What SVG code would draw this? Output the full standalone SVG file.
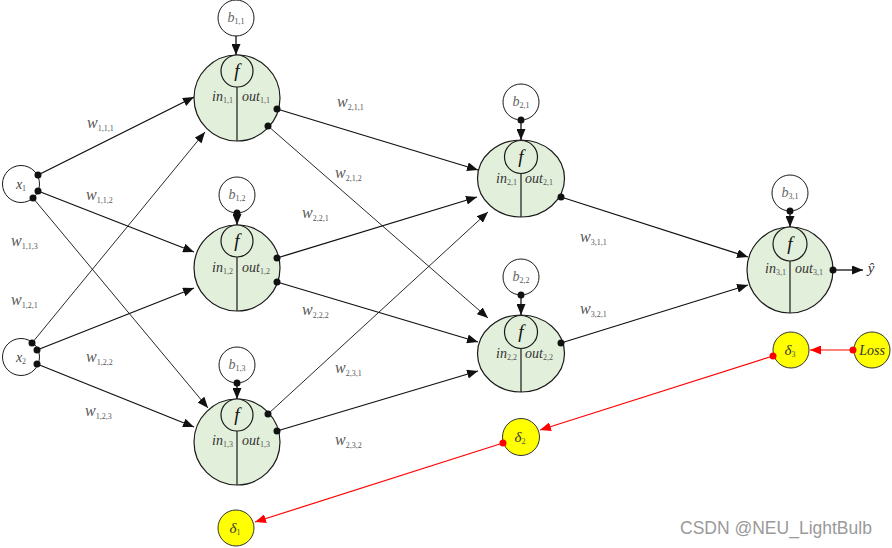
<svg xmlns="http://www.w3.org/2000/svg" width="892" height="548" viewBox="0 0 892 548">
<style>
  text { font-family: "Liberation Serif", "Times New Roman", serif; }
  .node { fill: #e2efda; stroke: #1a1a1a; stroke-width: 1.2; }
  .fc { fill: #e2efda; stroke: #1a1a1a; stroke-width: 1.2; }
  .div { stroke: #1a1a1a; stroke-width: 1.2; }
  .plain { fill: #ffffff; stroke: #1a1a1a; stroke-width: 1; }
  .delta { fill: #ffff00; stroke: #333333; stroke-width: 1; }
  .f { font-style: italic; font-size: 19px; fill: #111; text-anchor: middle; }
  .lab { font-style: italic; font-size: 14px; fill: #333; }
  .sub { font-style: normal; font-size: 8px; fill: #555; }
  .w { font-style: italic; font-size: 16px; fill: #555; }
  .b { font-style: italic; font-size: 14px; fill: #666; text-anchor: middle; }
  .x { font-style: italic; font-size: 14px; fill: #444; text-anchor: middle; }
  .d { font-style: italic; font-size: 15px; fill: #333; text-anchor: middle; }
  .thick { stroke: #111; stroke-width: 1.3; fill: none; marker-end: url(#arr); }
  .thin { stroke: #111; stroke-width: 0.9; fill: none; marker-end: url(#arr); }
  .red { stroke: #ff0000; stroke-width: 1.2; fill: none; marker-end: url(#rarr); }
  .dot { fill: #111; }
  .rdot { fill: #ff0000; }
</style>
<defs>
  <marker id="arr" markerUnits="userSpaceOnUse" markerWidth="11" markerHeight="9" refX="11" refY="4.5" orient="auto">
    <path d="M0,0 L11,4.5 L0,9 z" fill="#111"/>
  </marker>
  <marker id="rarr" markerUnits="userSpaceOnUse" markerWidth="11" markerHeight="9" refX="11" refY="4.5" orient="auto">
    <path d="M0,0 L11,4.5 L0,9 z" fill="#ff0000"/>
  </marker>
</defs>
<rect width="892" height="548" fill="#ffffff"/>

<g id="connectors">
  <line class="thick" x1="38" y1="175" x2="194" y2="97"/>
  <line class="thick" x1="38" y1="191" x2="194" y2="252"/>
  <line class="thin" x1="33" y1="198" x2="208" y2="408"/>
  <line class="thin" x1="32" y1="343" x2="205" y2="132"/>
  <line class="thick" x1="37" y1="350" x2="194" y2="288"/>
  <line class="thick" x1="37" y1="364" x2="194" y2="427"/>
  <line class="thick" x1="277" y1="109" x2="478" y2="170"/>
  <line class="thin" x1="268" y1="126" x2="488" y2="318"/>
  <line class="thick" x1="277" y1="258" x2="477" y2="197"/>
  <line class="thick" x1="277" y1="282" x2="478" y2="342"/>
  <line class="thin" x1="268" y1="414" x2="488" y2="212"/>
  <line class="thick" x1="277" y1="431" x2="478" y2="371"/>
  <line class="thick" x1="561" y1="197" x2="748" y2="257"/>
  <line class="thick" x1="561" y1="343" x2="748" y2="285"/>
  <line class="thick" x1="833" y1="270" x2="863" y2="270"/>
  <line class="thick" x1="236" y1="36" x2="236" y2="55"/>
  <line class="thick" x1="237" y1="213" x2="237" y2="225"/>
  <line class="thick" x1="237" y1="383" x2="237" y2="399"/>
  <line class="thick" x1="521" y1="120" x2="521" y2="140"/>
  <line class="thick" x1="521" y1="295" x2="521" y2="315"/>
  <line class="thick" x1="790" y1="211" x2="790" y2="227"/>
  <line class="red" x1="853" y1="350" x2="810" y2="350"/>
  <line class="red" x1="773" y1="356" x2="540" y2="430"/>
  <line class="red" x1="503" y1="443" x2="255" y2="522"/>
</g>

<g id="weights">
  <text class="w" x="87" y="128">w<tspan class="sub" dy="3">1,1,1</tspan></text>
  <text class="w" x="86" y="200">w<tspan class="sub" dy="3">1,1,2</tspan></text>
  <text class="w" x="11" y="246">w<tspan class="sub" dy="3">1,1,3</tspan></text>
  <text class="w" x="11" y="305">w<tspan class="sub" dy="3">1,2,1</tspan></text>
  <text class="w" x="86" y="362">w<tspan class="sub" dy="3">1,2,2</tspan></text>
  <text class="w" x="85" y="416">w<tspan class="sub" dy="3">1,2,3</tspan></text>
  <text class="w" x="337" y="107">w<tspan class="sub" dy="3">2,1,1</tspan></text>
  <text class="w" x="335" y="178">w<tspan class="sub" dy="3">2,1,2</tspan></text>
  <text class="w" x="302" y="218">w<tspan class="sub" dy="3">2,2,1</tspan></text>
  <text class="w" x="302" y="315">w<tspan class="sub" dy="3">2,2,2</tspan></text>
  <text class="w" x="335" y="373">w<tspan class="sub" dy="3">2,3,1</tspan></text>
  <text class="w" x="335" y="445">w<tspan class="sub" dy="3">2,3,2</tspan></text>
  <text class="w" x="580" y="242">w<tspan class="sub" dy="3">3,1,1</tspan></text>
  <text class="w" x="580" y="314">w<tspan class="sub" dy="3">3,2,1</tspan></text>
</g>

<g id="x1">
  <circle class="plain" cx="21" cy="184" r="18.5"/>
  <text class="x" x="21" y="189">x<tspan class="sub" dy="2">1</tspan></text>
</g>
<g id="x2">
  <circle class="plain" cx="21" cy="357" r="18.5"/>
  <text class="x" x="21" y="362">x<tspan class="sub" dy="2">2</tspan></text>
</g>

<g id="b11"><circle class="plain" cx="236" cy="18" r="18"/><text class="b" x="236" y="22">b<tspan class="sub" dy="2">1,1</tspan></text></g>
<g id="b12"><circle class="plain" cx="237" cy="195" r="18"/><text class="b" x="237" y="199">b<tspan class="sub" dy="2">1,2</tspan></text></g>
<g id="b13"><circle class="plain" cx="237" cy="365" r="18"/><text class="b" x="237" y="369">b<tspan class="sub" dy="2">1,3</tspan></text></g>
<g id="b21"><circle class="plain" cx="521" cy="102" r="18"/><text class="b" x="521" y="106">b<tspan class="sub" dy="2">2,1</tspan></text></g>
<g id="b22"><circle class="plain" cx="521" cy="277" r="18"/><text class="b" x="521" y="281">b<tspan class="sub" dy="2">2,2</tspan></text></g>
<g id="b31"><circle class="plain" cx="790" cy="193" r="18"/><text class="b" x="790" y="197">b<tspan class="sub" dy="2">3,1</tspan></text></g>

<g id="n11">
  <circle class="node" cx="237" cy="98" r="43"/>
  <line class="div" x1="237" y1="87" x2="237" y2="141"/>
  <circle class="fc" cx="237" cy="71" r="16"/>
  <text class="f" x="237" y="77">f</text>
  <text class="lab" x="233" y="101" text-anchor="end">in<tspan class="sub" dy="2">1,1</tspan></text>
  <text class="lab" x="242" y="101">out<tspan class="sub" dy="2">1,1</tspan></text>
</g>
<g id="n12">
  <circle class="node" cx="237" cy="268" r="43"/>
  <line class="div" x1="237" y1="257" x2="237" y2="311"/>
  <circle class="fc" cx="237" cy="241" r="16"/>
  <text class="f" x="237" y="247">f</text>
  <text class="lab" x="233" y="272" text-anchor="end">in<tspan class="sub" dy="2">1,2</tspan></text>
  <text class="lab" x="242" y="272">out<tspan class="sub" dy="2">1,2</tspan></text>
</g>
<g id="n13">
  <circle class="node" cx="237" cy="442" r="43"/>
  <line class="div" x1="237" y1="431" x2="237" y2="485"/>
  <circle class="fc" cx="237" cy="415" r="16"/>
  <text class="f" x="237" y="421">f</text>
  <text class="lab" x="233" y="445" text-anchor="end">in<tspan class="sub" dy="2">1,3</tspan></text>
  <text class="lab" x="242" y="445">out<tspan class="sub" dy="2">1,3</tspan></text>
</g>
<g id="n21">
  <ellipse class="node" cx="521" cy="178.5" rx="43.5" ry="38.5"/>
  <line class="div" x1="521" y1="173" x2="521" y2="217"/>
  <circle class="fc" cx="521" cy="157" r="16.5"/>
  <text class="f" x="521" y="163">f</text>
  <text class="lab" x="517" y="183" text-anchor="end">in<tspan class="sub" dy="2">2,1</tspan></text>
  <text class="lab" x="525" y="183">out<tspan class="sub" dy="2">2,1</tspan></text>
</g>
<g id="n22">
  <ellipse class="node" cx="521" cy="353.5" rx="43.5" ry="38.5"/>
  <line class="div" x1="521" y1="348" x2="521" y2="392"/>
  <circle class="fc" cx="521" cy="332" r="16.5"/>
  <text class="f" x="521" y="338">f</text>
  <text class="lab" x="517" y="358" text-anchor="end">in<tspan class="sub" dy="2">2,2</tspan></text>
  <text class="lab" x="525" y="358">out<tspan class="sub" dy="2">2,2</tspan></text>
</g>
<g id="n31">
  <circle class="node" cx="790" cy="270" r="43"/>
  <line class="div" x1="790" y1="261" x2="790" y2="313"/>
  <circle class="fc" cx="790" cy="244" r="17"/>
  <text class="f" x="790" y="250">f</text>
  <text class="lab" x="786" y="273" text-anchor="end">in<tspan class="sub" dy="2">3,1</tspan></text>
  <text class="lab" x="795" y="273">out<tspan class="sub" dy="2">3,1</tspan></text>
</g>
<g id="yhat">
  <text class="d" x="871" y="273">ŷ</text>
</g>

<g id="delta3"><circle class="delta" cx="791" cy="350" r="18"/><text class="d" x="790" y="355">δ<tspan class="sub" dy="2">3</tspan></text></g>
<g id="loss"><circle class="delta" cx="872" cy="350" r="18"/><text class="d" x="872" y="355" style="font-size:14px">Loss</text></g>
<g id="delta2"><circle class="delta" cx="521" cy="437" r="18.5"/><text class="d" x="520" y="442">δ<tspan class="sub" dy="2">2</tspan></text></g>
<g id="delta1"><circle class="delta" cx="236" cy="528" r="18"/><text class="d" x="235" y="533">δ<tspan class="sub" dy="2">1</tspan></text></g>

<g id="dots">
  <circle class="dot" cx="38" cy="175" r="3.5"/>
  <circle class="dot" cx="38" cy="191" r="3.5"/>
  <circle class="dot" cx="33" cy="198" r="3.5"/>
  <circle class="dot" cx="32" cy="343" r="3.5"/>
  <circle class="dot" cx="37" cy="350" r="3.5"/>
  <circle class="dot" cx="37" cy="364" r="3.5"/>
  <circle class="dot" cx="277" cy="109" r="3.5"/>
  <circle class="dot" cx="268" cy="126" r="3.5"/>
  <circle class="dot" cx="277" cy="258" r="3.5"/>
  <circle class="dot" cx="277" cy="282" r="3.5"/>
  <circle class="dot" cx="268" cy="414" r="3.5"/>
  <circle class="dot" cx="277" cy="431" r="3.5"/>
  <circle class="dot" cx="561" cy="197" r="3.5"/>
  <circle class="dot" cx="561" cy="343" r="3.5"/>
  <circle class="dot" cx="833" cy="270" r="3.5"/>
  <circle class="dot" cx="237" cy="213" r="3.5"/>
  <circle class="dot" cx="237" cy="383" r="3.5"/>
  <circle class="dot" cx="521" cy="120" r="3.5"/>
  <circle class="dot" cx="521" cy="295" r="3.5"/>
  <circle class="dot" cx="790" cy="211" r="3.5"/>
  <circle class="rdot" cx="853" cy="350" r="3.5"/>
  <circle class="rdot" cx="773" cy="356" r="3.5"/>
  <circle class="rdot" cx="503" cy="443" r="3.5"/>
</g>

<text x="680" y="534" style="font-family:'Liberation Sans','Noto Sans',sans-serif;font-size:17.5px;fill:#9a9a9a">CSDN @NEU_LightBulb</text>
</svg>
